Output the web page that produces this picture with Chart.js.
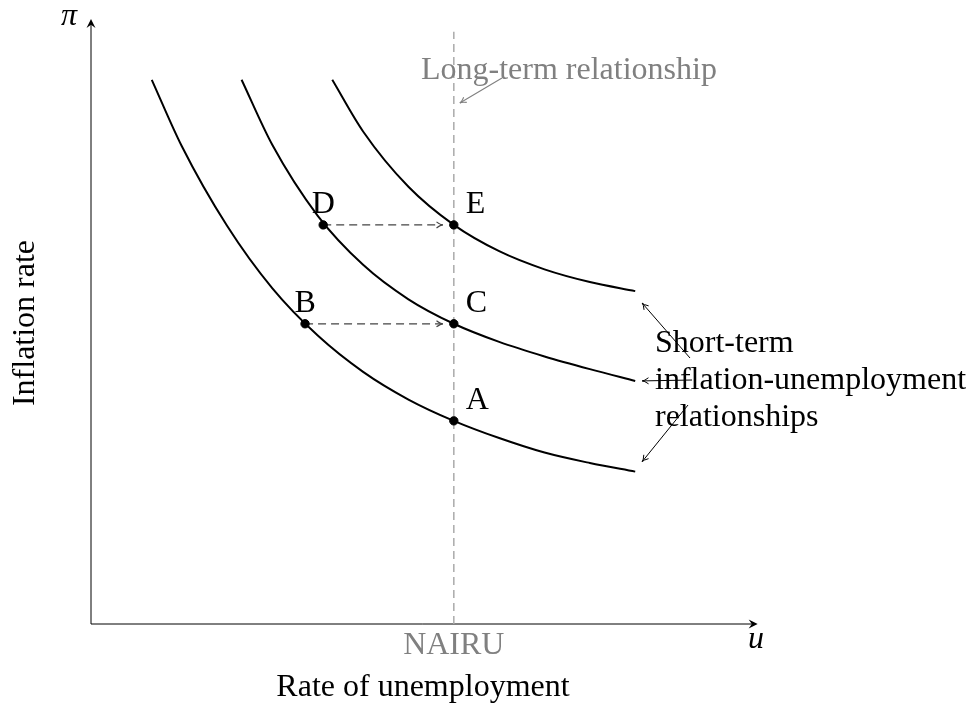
<!DOCTYPE html>
<html>
<head>
    <title>Short-term and long-term Phillips curves</title>
    <script src="https://cdn.jsdelivr.net/npm/chart.js"></script>
    <style>
        body { margin: 0; background: #fff; }
        #phillipsChart { display: block; }
    </style>
</head>
<body>
<canvas id="phillipsChart" width="979" height="710"></canvas>
<script>
    // short-term curves (u, pi)
    const uLow = [0.67, 1.0, 1.5, 2.0, 2.5, 3.0, 3.5, 4.0, 4.5, 5.0, 5.5, 6.0];
    const piLow = [6.0, 5.27, 4.39, 3.70, 3.18, 2.78, 2.475, 2.24, 2.05, 1.89, 1.775, 1.68];

    const uMid = [1.66, 2.0, 2.5, 3.0, 3.5, 4.0, 4.5, 5.0, 5.5, 6.0];
    const piMid = [6.0, 5.28, 4.50, 3.96, 3.58, 3.31, 3.11, 2.95, 2.81, 2.68];

    const uHigh = [2.66, 3.0, 3.5, 4.0, 4.5, 5.0, 5.5, 6.0];
    const piHigh = [6.0, 5.43, 4.82, 4.40, 4.11, 3.91, 3.77, 3.67];

    // marked points
    const pointNames = ['A', 'B', 'C', 'D', 'E'];
    const pointU = [4.0, 2.36, 4.0, 2.56, 4.0];
    const pointPi = [2.24, 3.31, 3.31, 4.40, 4.40];

    // long-term relationship (vertical at NAIRU)
    const nairu = 4.0;
    const nairuTop = 6.53;

    // moves B -> C and D -> E
    const moveFrom = ['B', 'D'];
    const moveTo = ['C', 'E'];

    // axis ends
    const uAxisEnd = 7.35;
    const piAxisEnd = 6.67;

    const serif = '"Liberation Serif", "DejaVu Serif", serif';

    function toXY(xs, ys) {
        return xs.map((x, i) => ({x: x, y: ys[i]}));
    }

    function pointOf(name) {
        const i = pointNames.indexOf(name);
        return {x: pointU[i], y: pointPi[i]};
    }

    function vHead(ctx, x1, y1, x2, y2, len, spread) {
        const a = Math.atan2(y2 - y1, x2 - x1);
        ctx.beginPath();
        ctx.moveTo(x2 - len * Math.cos(a - spread), y2 - len * Math.sin(a - spread));
        ctx.quadraticCurveTo(x2 - len * 0.3 * Math.cos(a), y2 - len * 0.3 * Math.sin(a), x2, y2);
        ctx.quadraticCurveTo(x2 - len * 0.3 * Math.cos(a), y2 - len * 0.3 * Math.sin(a),
            x2 - len * Math.cos(a + spread), y2 - len * Math.sin(a + spread));
        ctx.stroke();
    }

    function filledHead(ctx, x1, y1, x2, y2, len, half) {
        const a = Math.atan2(y2 - y1, x2 - x1);
        const c = Math.cos(a), s = Math.sin(a);
        ctx.beginPath();
        ctx.moveTo(x2, y2);
        ctx.lineTo(x2 - len * c + half * s, y2 - len * s - half * c);
        ctx.lineTo(x2 - len * 0.65 * c, y2 - len * 0.65 * s);
        ctx.lineTo(x2 - len * c - half * s, y2 - len * s + half * c);
        ctx.closePath();
        ctx.fill();
    }

    function arrowLine(ctx, x1, y1, x2, y2) {
        ctx.beginPath();
        ctx.moveTo(x1, y1);
        ctx.lineTo(x2, y2);
        ctx.stroke();
        vHead(ctx, x1, y1, x2, y2, 7, 0.45);
    }

    const axesPlugin = {
        id: 'axesPlugin',
        beforeDatasetsDraw(chart) {
            const ctx = chart.ctx;
            const sx = chart.scales.x, sy = chart.scales.y;
            const x0 = sx.getPixelForValue(0), y0 = sy.getPixelForValue(0);
            const xe = sx.getPixelForValue(uAxisEnd), ye = sy.getPixelForValue(piAxisEnd);
            ctx.save();
            ctx.strokeStyle = '#000';
            ctx.fillStyle = '#000';
            ctx.lineWidth = 1;
            ctx.beginPath();
            ctx.moveTo(x0, y0);
            ctx.lineTo(xe - 3, y0);
            ctx.moveTo(x0, y0);
            ctx.lineTo(x0, ye + 3);
            ctx.stroke();
            filledHead(ctx, x0, y0, xe, y0, 9, 4.5);
            filledHead(ctx, x0, y0, x0, ye, 9, 4.5);
            ctx.restore();
        }
    };

    const labelsPlugin = {
        id: 'labelsPlugin',
        afterDatasetsDraw(chart) {
            const ctx = chart.ctx;
            const sx = chart.scales.x, sy = chart.scales.y;
            const px = v => sx.getPixelForValue(v);
            const py = v => sy.getPixelForValue(v);
            ctx.save();

            // heads of the dashed moves
            ctx.strokeStyle = '#444';
            ctx.lineWidth = 1.2;
            moveFrom.forEach((name, i) => {
                const a = pointOf(name), b = pointOf(moveTo[i]);
                const tipX = px(b.x) - 11;
                vHead(ctx, px(a.x), py(a.y), tipX, py(b.y), 7, 0.45);
            });

            // point labels
            ctx.fillStyle = '#000';
            ctx.font = '32px ' + serif;
            ctx.textBaseline = 'alphabetic';
            pointNames.forEach((name, i) => {
                const x = px(pointU[i]), y = py(pointPi[i]);
                if (pointU[i] === nairu) {
                    ctx.textAlign = 'left';
                    ctx.fillText(name, x + 12, y - 12);
                } else {
                    ctx.textAlign = 'center';
                    ctx.fillText(name, x, y - 12);
                }
            });

            // axis symbols and titles
            ctx.font = 'italic 32px ' + serif;
            ctx.textAlign = 'center';
            ctx.fillText('\u03c0', 69, 25);
            ctx.fillText('u', 756, 648);

            ctx.font = '32px ' + serif;
            ctx.fillText('Rate of unemployment', 423, 696);
            ctx.save();
            ctx.translate(34, 323);
            ctx.rotate(-Math.PI / 2);
            ctx.fillText('Inflation rate', 0, 0);
            ctx.restore();

            ctx.fillStyle = '#808080';
            ctx.fillText('NAIRU', px(nairu), 654);
            ctx.textAlign = 'left';
            ctx.fillText('Long-term relationship', 421, 79);

            // long-term pointer
            ctx.strokeStyle = '#808080';
            ctx.lineWidth = 1.1;
            arrowLine(ctx, 502, 78, px(nairu) + 6, 103);

            // short-term label and pointers
            ctx.fillStyle = '#000';
            ctx.fillText('Short-term', 655, 352);
            ctx.fillText('inflation-unemployment', 655, 389);
            ctx.fillText('relationships', 655, 426);

            ctx.strokeStyle = '#000';
            ctx.lineWidth = 1;
            const endX = px(uHigh[uHigh.length - 1]) + 7;
            arrowLine(ctx, 690, 358, endX, py(piHigh[piHigh.length - 1]) + 12);
            arrowLine(ctx, 692, 380, endX, py(piMid[piMid.length - 1]));
            arrowLine(ctx, 688, 405, endX, py(piLow[piLow.length - 1]) - 10);

            ctx.restore();
        }
    };

    const curveStyle = {
        borderColor: '#000',
        borderWidth: 2,
        pointRadius: 0,
        showLine: true,
        fill: false,
        cubicInterpolationMode: 'monotone',
        order: 2
    };

    const movesData = moveFrom.map((name, i) => {
        const a = pointOf(name), b = pointOf(moveTo[i]);
        return {
            data: [a, {x: b.x - 0.12, y: b.y}],
            borderColor: '#444',
            borderWidth: 1.2,
            borderDash: [8, 5],
            pointRadius: 0,
            showLine: true,
            order: 3
        };
    });

    new Chart(document.getElementById('phillipsChart').getContext('2d'), {
        type: 'scatter',
        data: {
            datasets: [
                {
                    data: toXY(pointU, pointPi),
                    backgroundColor: '#000',
                    borderColor: '#000',
                    pointRadius: 4.2,
                    showLine: false,
                    order: 0
                },
                Object.assign({data: toXY(uLow, piLow)}, curveStyle),
                Object.assign({data: toXY(uMid, piMid)}, curveStyle),
                Object.assign({data: toXY(uHigh, piHigh)}, curveStyle),
                ...movesData,
                {
                    data: [{x: nairu, y: 0}, {x: nairu, y: nairuTop}],
                    borderColor: '#aaaaaa',
                    borderWidth: 1.5,
                    borderDash: [8, 5],
                    pointRadius: 0,
                    showLine: true,
                    order: 5
                }
            ]
        },
        options: {
            responsive: false,
            animation: false,
            layout: {
                padding: {left: 91, right: 216.8, top: 16.3, bottom: 86}
            },
            plugins: {
                legend: {display: false},
                tooltip: {enabled: false}
            },
            scales: {
                x: {type: 'linear', min: 0, max: 7.4, display: false},
                y: {type: 'linear', min: 0, max: 6.7, display: false}
            }
        },
        plugins: [axesPlugin, labelsPlugin]
    });
</script>
</body>
</html>
